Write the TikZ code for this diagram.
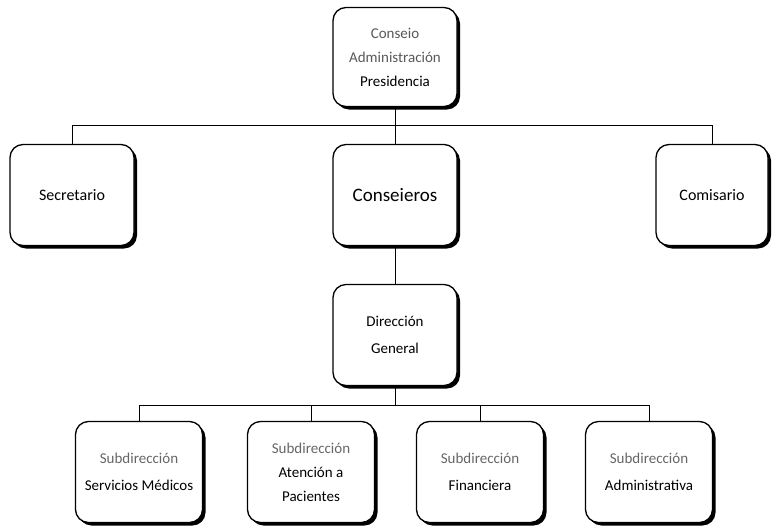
\documentclass[tikz,border=0pt]{standalone}
\usepackage{fontspec}
\setmainfont{Carlito}
\usetikzlibrary{shadows}
\begin{document}
\begin{tikzpicture}[x=1pt,y=-1pt,
  box/.style={draw, line width=1.3pt, rounded corners=13pt, fill=white,
    align=center, inner sep=2pt, font=\fontsize{15}{24}\selectfont,
    drop shadow={shadow xshift=3pt, shadow yshift=-3pt, fill=black, opacity=1}},
  conn/.style={line width=1pt}]
\useasboundingbox (0,0) rectangle (772,528);
\node[box, minimum width=124pt, minimum height=99pt] (top) at (395,57)
  {\textcolor{black!65}{Conseio}\\\textcolor{black!65}{Administración}\\Presidencia};
\node[box, minimum width=124pt, minimum height=101pt, font=\fontsize{16}{19}\selectfont] (sec) at (72,195) {Secretario};
\node[box, minimum width=124pt, minimum height=101pt, font=\fontsize{19}{22}\selectfont] (cons) at (395,195) {Conseieros};
\node[box, minimum width=112pt, minimum height=101pt, font=\fontsize{16}{19}\selectfont] (com) at (712,195) {Comisario};
\node[box, minimum width=124pt, minimum height=101pt, font=\fontsize{15}{27}\selectfont] (dir) at (395,335) {Dirección\\General};
\node[box, minimum width=127pt, minimum height=101pt, font=\fontsize{15}{27}\selectfont] (b1) at (139,472)
  {\textcolor{black!60}{Subdirección}\\Servicios Médicos};
\node[box, minimum width=127pt, minimum height=101pt] (b2) at (311,472)
  {\textcolor{black!60}{Subdirección}\\Atención a\\Pacientes};
\node[box, minimum width=127pt, minimum height=101pt, font=\fontsize{15}{27}\selectfont] (b3) at (480,472)
  {\textcolor{black!60}{Subdirección}\\Financiera};
\node[box, minimum width=127pt, minimum height=101pt, font=\fontsize{15}{27}\selectfont] (b4) at (649,472)
  {\textcolor{black!60}{Subdirección}\\Administrativa};
\coordinate (bus2) at (0,405);
\draw[conn] (top.south) -- (cons.north);
\draw[conn] (sec.north) -- ++(0,-18) -| (com.north);
\draw[conn] (cons.south) -- (dir.north);
\draw[conn] (dir.south) -- (dir.south |- bus2);
\draw[conn] (b1.north) -- (b1.north |- bus2) -| (b4.north);
\draw[conn] (b2.north) -- (b2.north |- bus2);
\draw[conn] (b3.north) -- (b3.north |- bus2);
\end{tikzpicture}
\end{document}
